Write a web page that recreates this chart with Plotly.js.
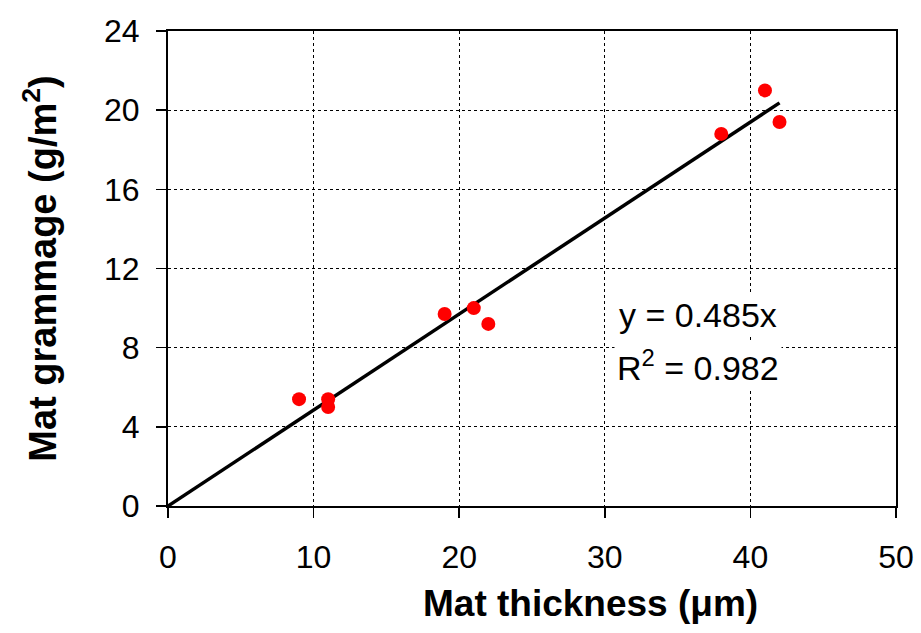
<!DOCTYPE html>
<html>
<head>
<meta charset="utf-8">
<script src="https://cdn.plot.ly/plotly-3.0.1.min.js"></script>
<style>html,body{margin:0;padding:0;background:#fff;}#chart{width:921px;height:633px;}</style>
</head>
<body>
<div id="chart"></div>
<script>
// Measured data
const thickness = [9, 11, 11, 19, 21, 22, 38, 41, 42];
const grammage  = [5.4, 5.4, 5.0, 9.7, 10.0, 9.2, 18.8, 21.0, 19.4];
// Trend line (through origin)
const slope = 0.485;
const r2 = 0.982;
const xTicks = [0, 10, 20, 30, 40, 50];
const yTicks = [0, 4, 8, 12, 16, 20, 24];
const xTitle = '<b>Mat thickness (μm)</b>';
const yTitle = '<b>Mat grammage (g/m<sup>2</sup>)</b>';

const fitX = [0, Math.max(...thickness)];
const fitY = fitX.map(v => slope * v);

const font = 'Liberation Sans, Arial, sans-serif';

const traces = [
  {x: fitX, y: fitY, mode: 'lines', type: 'scatter',
   line: {color: '#000', width: 3.5}, hoverinfo: 'skip', showlegend: false},
  {x: thickness, y: grammage, mode: 'markers', type: 'scatter',
   marker: {color: '#ff0000', size: 14, line: {width: 0}}, showlegend: false}
];

const axisCommon = {
  showline: true, mirror: true, linecolor: '#000', linewidth: 2,
  ticks: 'outside', ticklen: 10, tickwidth: 1.5, tickcolor: '#000',
  showgrid: true, gridcolor: '#000', gridwidth: 1, griddash: '3px,3px',
  zeroline: false, tickfont: {family: font, size: 32, color: '#000'}
};

const layout = {
  width: 921, height: 633,
  margin: {l: 168, r: 25, t: 31, b: 127},
  paper_bgcolor: '#fff', plot_bgcolor: '#fff',
  font: {family: font, color: '#000'},
  xaxis: Object.assign({}, axisCommon, {
    range: [0, 50], tickvals: xTicks, ticktext: xTicks.map(String),
    ticklabelstandoff: 12
  }),
  yaxis: Object.assign({}, axisCommon, {
    range: [0, 24], tickvals: yTicks, ticktext: yTicks.map(String),
    ticklabelstandoff: 10,
    title: {text: yTitle, font: {family: font, size: 38, color: '#000'}, standoff: 36}
  }),
  annotations: [
    {x: 0.58, y: -0.206, xref: 'paper', yref: 'paper', text: xTitle,
     showarrow: false, xanchor: 'center', yanchor: 'middle',
     font: {family: font, size: 37, color: '#000'}},
    {x: 36.4, y: 9.63, xref: 'x', yref: 'y', text: 'y = ' + slope.toFixed(3) + 'x',
     showarrow: false, bgcolor: '#fff', borderpad: 2,
     font: {family: font, size: 34, color: '#000'}},
    {x: 36.4, y: 7.1, xref: 'x', yref: 'y', text: 'R<sup>2</sup> = ' + r2.toFixed(3),
     showarrow: false, bgcolor: '#fff', borderpad: 2,
     font: {family: font, size: 34, color: '#000'}}
  ]
};

Plotly.newPlot('chart', traces, layout, {displayModeBar: false, staticPlot: true});
</script>
</body>
</html>
